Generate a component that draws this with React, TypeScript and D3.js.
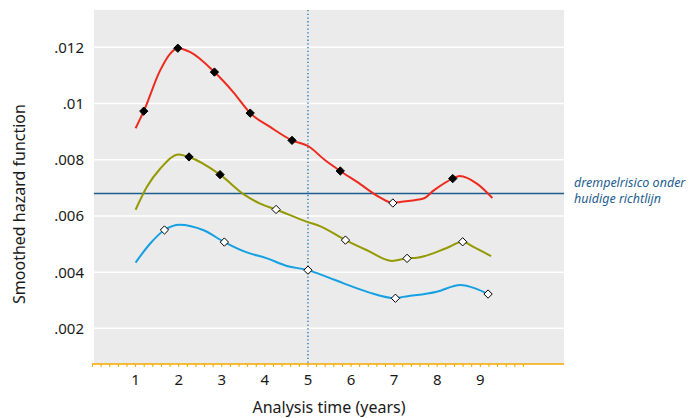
import React from "react";
import * as d3 from "d3";

type P = [number, number];

const yTicks = [0.002, 0.004, 0.006, 0.008, 0.01, 0.012];
const xTicks = [1, 2, 3, 4, 5, 6, 7, 8, 9];
const threshold = 0.0068;
const refYear = 5;

const redCurve: P[] = [
  [1.0, 0.00912], [1.19, 0.00973], [1.57, 0.01118], [1.8, 0.01177], [1.98, 0.01197],
  [2.27, 0.01183], [2.83, 0.01112], [3.27, 0.0104], [3.66, 0.00966], [4.13, 0.00916],
  [4.63, 0.00869], [5.01, 0.00848], [5.4, 0.00798], [5.75, 0.0076], [6.14, 0.00721],
  [6.68, 0.00665], [6.97, 0.00646], [7.14, 0.0065], [7.68, 0.00662], [7.92, 0.00691],
  [8.36, 0.00733], [8.52, 0.00742], [8.92, 0.00715], [9.28, 0.00664],
];
const oliveCurve: P[] = [
  [1.0, 0.00622], [1.26, 0.00703], [1.57, 0.00768], [2.0, 0.00819], [2.24, 0.0081],
  [2.96, 0.00747], [3.52, 0.00676], [3.89, 0.00644], [4.26, 0.00623], [4.98, 0.00579],
  [5.29, 0.00563], [5.87, 0.00514], [6.37, 0.00478], [6.95, 0.0044], [7.3, 0.00449],
  [7.53, 0.00451], [8.22, 0.00486], [8.59, 0.00508], [8.84, 0.0049], [9.25, 0.00457],
];
const blueCurve: P[] = [
  [1.0, 0.00434], [1.34, 0.00502], [1.67, 0.0055], [2.02, 0.00569], [2.58, 0.00549],
  [3.06, 0.00507], [3.55, 0.00472], [4.05, 0.00449], [4.51, 0.00422], [5.0, 0.00407],
  [5.44, 0.00383], [5.83, 0.0036], [6.41, 0.00328], [7.03, 0.00307], [7.14, 0.0031],
  [7.99, 0.0033], [8.53, 0.00354], [8.88, 0.00342], [9.18, 0.00322],
];

const redMarkers: P[] = [
  [1.19, 0.00973], [1.98, 0.01197], [2.83, 0.01112], [3.66, 0.00966],
  [4.63, 0.00869], [5.75, 0.0076], [6.97, 0.00646], [8.36, 0.00733],
];
const oliveMarkers: P[] = [
  [2.24, 0.0081], [2.96, 0.00747], [4.26, 0.00623], [5.87, 0.00514], [7.3, 0.00449], [8.59, 0.00508],
];
const blueMarkers: P[] = [
  [1.67, 0.0055], [3.06, 0.00507], [5.0, 0.00407], [7.03, 0.00307], [9.18, 0.00322],
];

const series = [
  { name: "red", color: "#ee2a1e", curve: redCurve, markers: redMarkers },
  { name: "olive", color: "#959a00", curve: oliveCurve, markers: oliveMarkers },
  { name: "blue", color: "#14a0e2", curve: blueCurve, markers: blueMarkers },
];

const W = 689;
const H = 418;
const plot = { left: 94, right: 564, top: 10, bottom: 364 };

export default function App() {
  const x = d3.scaleLinear().domain([0, 11]).range([92.5, 566.5]);
  const y = d3.scaleLinear().domain([0.00073, 0.01333]).range([plot.bottom, plot.top]);
  const line = d3
    .line<P>()
    .x((d) => x(d[0]))
    .y((d) => y(d[1]))
    .curve(d3.curveMonotoneX);
  const minor = d3.range(0, 10.001, 0.2);
  const fmt = (v: number) => d3.format(".3~f")(v).replace(/^0/, "");
  const font = "'Noto Sans', 'Open Sans', sans-serif";
  const diamond = d3.symbol().type(d3.symbolDiamond2).size(44)();

  return (
    <svg width={W} height={H} style={{ position: "absolute", left: 0, top: 0 }} fontFamily={font}>
      <rect x={plot.left} y={plot.top} width={plot.right - plot.left} height={plot.bottom - plot.top} fill="#ebebeb" />
      {yTicks.map((t) => (
        <line key={t} x1={plot.left} x2={plot.right} y1={y(t)} y2={y(t)} stroke="#ffffff" strokeWidth={1.5} />
      ))}
      {yTicks.map((t) => (
        <text key={"l" + t} x={84} y={y(t)} dy="0.36em" textAnchor="end" fontSize={15} fill="#1a1a1a">
          {fmt(t)}
        </text>
      ))}
      <line x1={plot.left} x2={plot.right} y1={y(threshold)} y2={y(threshold)} stroke="#1d5d8e" strokeWidth={1.5} />
      <line x1={x(refYear)} x2={x(refYear)} y1={plot.top} y2={plot.bottom} stroke="#1a6fb0" strokeWidth={1.3} strokeDasharray="1.3,2.4" />
      {series.map((s) => (
        <path key={s.name} d={line(s.curve) || ""} fill="none" stroke={s.color} strokeWidth={2} />
      ))}
      {series.map((s) =>
        s.markers.map((m, i) => (
          <path
            key={s.name + i}
            d={diamond || ""}
            transform={`translate(${x(m[0])},${y(m[1])})`}
            fill={m[1] > threshold ? "#000" : "#fff"}
            stroke="#000"
            strokeWidth={1}
          />
        ))
      )}
      <line x1={plot.left - 2} x2={plot.right} y1={plot.bottom} y2={plot.bottom} stroke="#f5a800" strokeWidth={1.5} />
      {minor.map((t, i) => (
        <line key={"m" + i} x1={x(t)} x2={x(t)} y1={plot.bottom} y2={plot.bottom + 3} stroke="#f5a800" strokeWidth={1} />
      ))}
      {xTicks.map((t) => (
        <text key={"x" + t} x={x(t)} y={384.5} textAnchor="middle" fontSize={15} fill="#1a1a1a">
          {t}
        </text>
      ))}
      <text x={(plot.left + plot.right) / 2} y={412.5} textAnchor="middle" fontSize={16} fill="#1a1a1a">
        Analysis time (years)
      </text>
      <text transform={`translate(25,204) rotate(-90)`} textAnchor="middle" fontSize={16} fill="#1a1a1a">
        Smoothed hazard function
      </text>
      <text x={574} y={187} fontSize={12.5} fontStyle="italic" fill="#1d5d8e">
        drempelrisico onder
      </text>
      <text x={574} y={203} fontSize={12.5} fontStyle="italic" fill="#1d5d8e">
        huidige richtlijn
      </text>
    </svg>
  );
}
